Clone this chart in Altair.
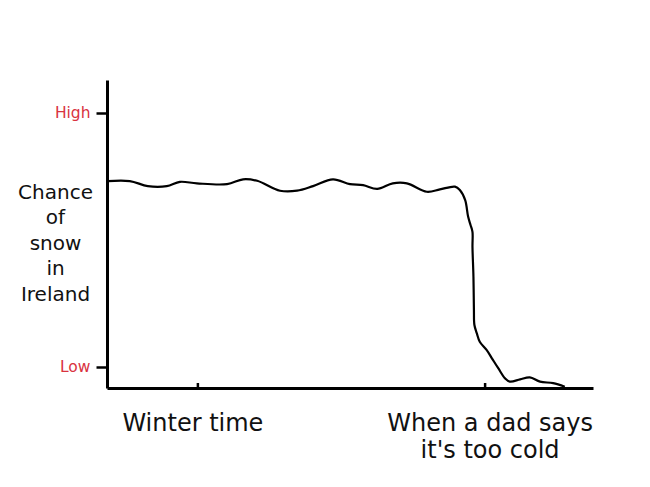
import altair as alt
import pandas as pd

# Data: x = time (0-100 across the axis), y = chance of snow (Low=0, High=100)
xs = [0.2, 4.7, 8.4, 12.3, 15.0, 18.5, 24.7, 28.0, 30.9, 35.6, 39.1, 42.4, 46.5, 50.0,
      52.7, 55.6, 58.8, 61.7, 65.8, 68.5, 71.6, 72.6, 73.7, 74.3, 74.8, 75.2, 75.2,
      75.4, 75.5, 75.6, 76.1, 76.7, 78.1, 79.2, 80.5, 81.9, 82.9, 85.0, 87.0, 89.1,
      91.8, 94.2]
ys = [73.1, 73.1, 71.1, 71.1, 72.8, 72.2, 71.9, 73.8, 73.2, 69.3, 69.3, 71.1, 73.8, 71.9,
      71.5, 70.0, 72.2, 72.2, 68.9, 69.8, 70.9, 69.6, 65.6, 59.1, 55.8, 53.1, 47.2,
      35.4, 22.3, 16.4, 13.1, 9.8, 6.6, 3.3, -0.6, -4.6, -5.9, -5.0, -4.2, -5.9,
      -6.5, -7.9]

y_tick_values = [100, 0]
y_tick_labels = ["High", "Low"]
x_tick_values = [18.7, 77.8]
x_tick_labels = ["Winter time", "When a dad says\nit's too cold"]
y_title = ["Chance", "of", "snow", "in", "Ireland"]

line_df = pd.DataFrame({"t": xs, "chance": ys, "order": list(range(len(xs)))})
xt_df = pd.DataFrame({"t": x_tick_values, "label": x_tick_labels})

W, H = 486, 308
FONT = "DejaVu Sans"

x_scale = alt.Scale(domain=[0, 100], nice=False, zero=False)
y_scale = alt.Scale(domain=[-8.4, 112.9], nice=False, zero=False)

label_expr = "datum.value > 50 ? '%s' : '%s'" % (y_tick_labels[0], y_tick_labels[1])

line = alt.Chart(line_df).mark_line(
    color="black", strokeWidth=2.2, interpolate="catmull-rom"
).encode(
    x=alt.X("t:Q", scale=x_scale,
            axis=alt.Axis(title=None, labels=False, ticks=False, grid=False,
                          domainColor="black", domainWidth=3)),
    y=alt.Y("chance:Q", scale=y_scale,
            axis=alt.Axis(values=y_tick_values, labelExpr=label_expr, grid=False,
                          domainColor="black", domainWidth=3,
                          tickColor="black", tickWidth=2.5, tickSize=11,
                          labelColor="#d9333f", labelFont=FONT, labelFontSize=15.5,
                          labelPadding=6,
                          title=y_title, titleAngle=0, titleFont=FONT,
                          titleFontSize=20, titleFontWeight="normal",
                          titleColor="#111111", titleAlign="center",
                          titleBaseline="alphabetic", titleX=-52, titleY=118,
                          titleLineHeight=25.5)),
    order="order:Q",
)

xticks = alt.Chart(xt_df).mark_rule(color="black", strokeWidth=2.5).encode(
    x=alt.X("t:Q", scale=x_scale),
    y=alt.value(H - 5),
    y2=alt.value(H),
)

def xlabel(i, dx):
    return alt.Chart(xt_df).transform_filter(
        alt.datum.label == x_tick_labels[i]
    ).mark_text(
        font=FONT, fontSize=24, color="#111111", baseline="alphabetic",
        align="center", lineBreak="\n", lineHeight=27, dx=dx
    ).encode(
        x=alt.X("t:Q", scale=x_scale),
        y=alt.value(H + 43),
        text="label:N",
    )

chart = alt.layer(line, xticks, xlabel(0, -5), xlabel(1, 5)).properties(
    width=W, height=H,
    background="white",
    autosize=alt.AutoSizeParams(type="none"),
    padding={"left": 99, "top": 72, "right": 40, "bottom": 95},
).configure_view(strokeWidth=0, stroke="transparent")

chart.save("out.html", embed_options={"renderer": "svg", "actions": False})
